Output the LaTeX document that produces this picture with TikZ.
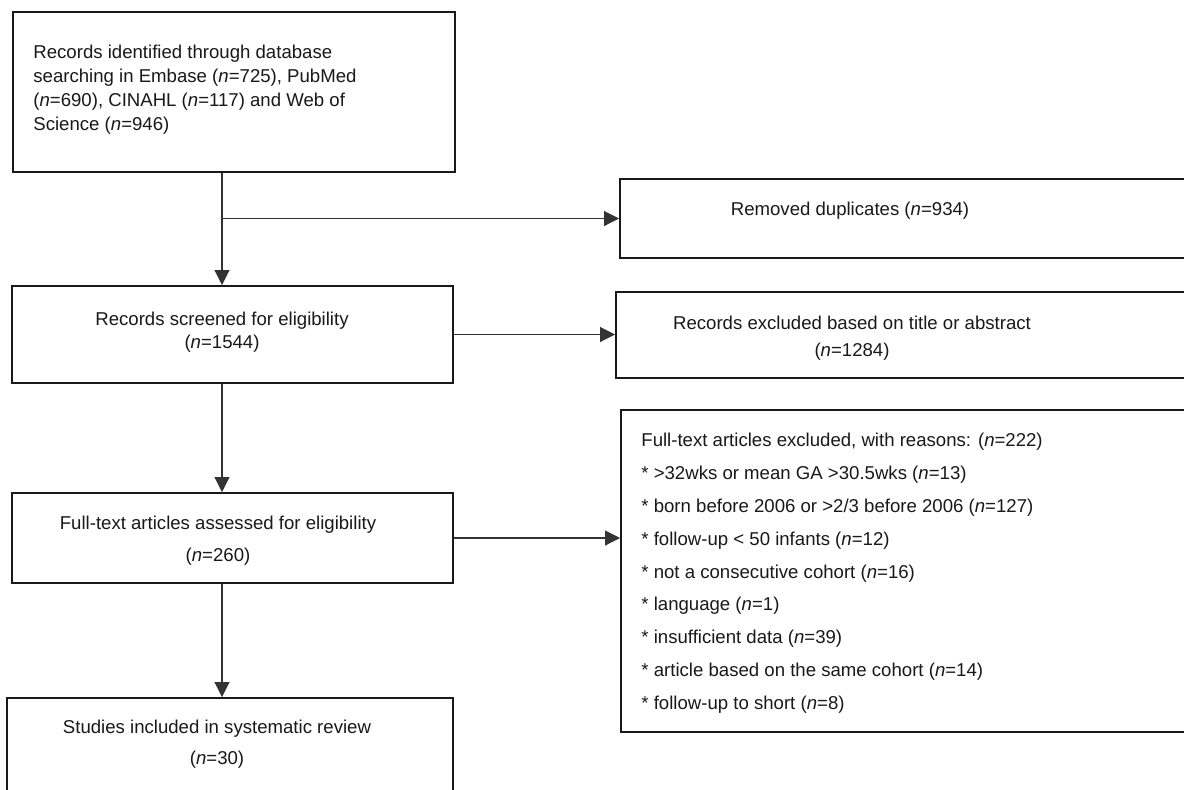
\documentclass[tikz,border=0pt]{standalone}
\usepackage{fontspec}
\setmainfont{Liberation Sans}
\usetikzlibrary{arrows.meta,positioning,calc}

\begin{document}
\begin{tikzpicture}[
  x=0.5pt, y=-0.5pt,
  box/.style={draw=black!90, line width=1pt, inner sep=0pt},
  txt/.style={inner sep=0pt, text=black!90},
  arr/.style={draw=black!80, line width=0.55pt, -{Triangle[length=7.5pt,width=7.5pt]}},
]
\useasboundingbox[fill=white] (0,0) rectangle (1184,789);
\clip (0,0) rectangle (1184,789);

% boxes
\node[box, minimum width=221pt, minimum height=80pt] (ident) at (234,92) {};
\node[box, minimum width=315pt, minimum height=39.5pt] (dup) at (935,218.5) {};
\node[box, minimum width=220.5pt, minimum height=48.5pt] (screen) at (232.5,334.5) {};
\node[box, minimum width=317pt, minimum height=43pt] (excl) at (933,335) {};
\node[box, minimum width=220.5pt, minimum height=45pt] (full) at (232.5,538) {};
\node[box, minimum width=314.5pt, minimum height=161pt] (reasons) at (935.5,571) {};
\node[box, minimum width=223pt, minimum height=66pt] (incl) at (230,764) {};

% texts
\node[txt, anchor=north west, align=left, font=\fontsize{9.3}{12}\selectfont] (identtxt) at (33,45)
  {Records identified through database\\
   searching in Embase (\textit{n}=725), PubMed\\
   (\textit{n}=690), CINAHL (\textit{n}=117) and Web of\\
   Science (\textit{n}=946)};
\node[txt, anchor=north, font=\fontsize{9.3}{12}\selectfont] (duptxt) at (850,202)
  {Removed duplicates (\textit{n}=934)};
\node[txt, anchor=north, align=center, font=\fontsize{9.3}{11.75}\selectfont] (screentxt) at (222,311.5)
  {Records screened for eligibility\\(\textit{n}=1544)};
\node[txt, anchor=north, align=center, font=\fontsize{9.3}{13.5}\selectfont] (excltxt) at (852,316)
  {Records excluded based on title or abstract\\(\textit{n}=1284)};
\node[txt, anchor=north, align=center, font=\fontsize{9.3}{16}\selectfont] (fulltxt) at (218,516)
  {Full-text articles assessed for eligibility\\(\textit{n}=260)};
\node[txt, anchor=north west, align=left, font=\fontsize{9.3}{16.4}\selectfont] (reasonstxt) at (641,433)
  {Full-text articles excluded, with reasons: (\textit{n}=222)\\
   * >32wks or mean GA >30.5wks (\textit{n}=13)\\
   * born before 2006 or >2/3 before 2006 (\textit{n}=127)\\
   * follow-up < 50 infants (\textit{n}=12)\\
   * not a consecutive cohort (\textit{n}=16)\\
   * language (\textit{n}=1)\\
   * insufficient data (\textit{n}=39)\\
   * article based on the same cohort (\textit{n}=14)\\
   * follow-up to short (\textit{n}=8)};
\node[txt, anchor=north, align=center, font=\fontsize{9.3}{15.5}\selectfont] (incltxt) at (217,720)
  {Studies included in systematic review\\(\textit{n}=30)};

% connectors
\coordinate (spine) at (222,0);
\draw[arr] (ident.south -| spine) -- (screen.north -| spine);
\draw[arr] (spine |- dup.west) -- (dup.west);
\draw[arr] (screen.east) -- (screen.east -| excl.west);
\draw[arr] (screen.south -| spine) -- (full.north -| spine);
\draw[arr] (full.east) -- (full.east -| reasons.west);
\draw[arr] (full.south -| spine) -- (incl.north -| spine);
\end{tikzpicture}
\end{document}
